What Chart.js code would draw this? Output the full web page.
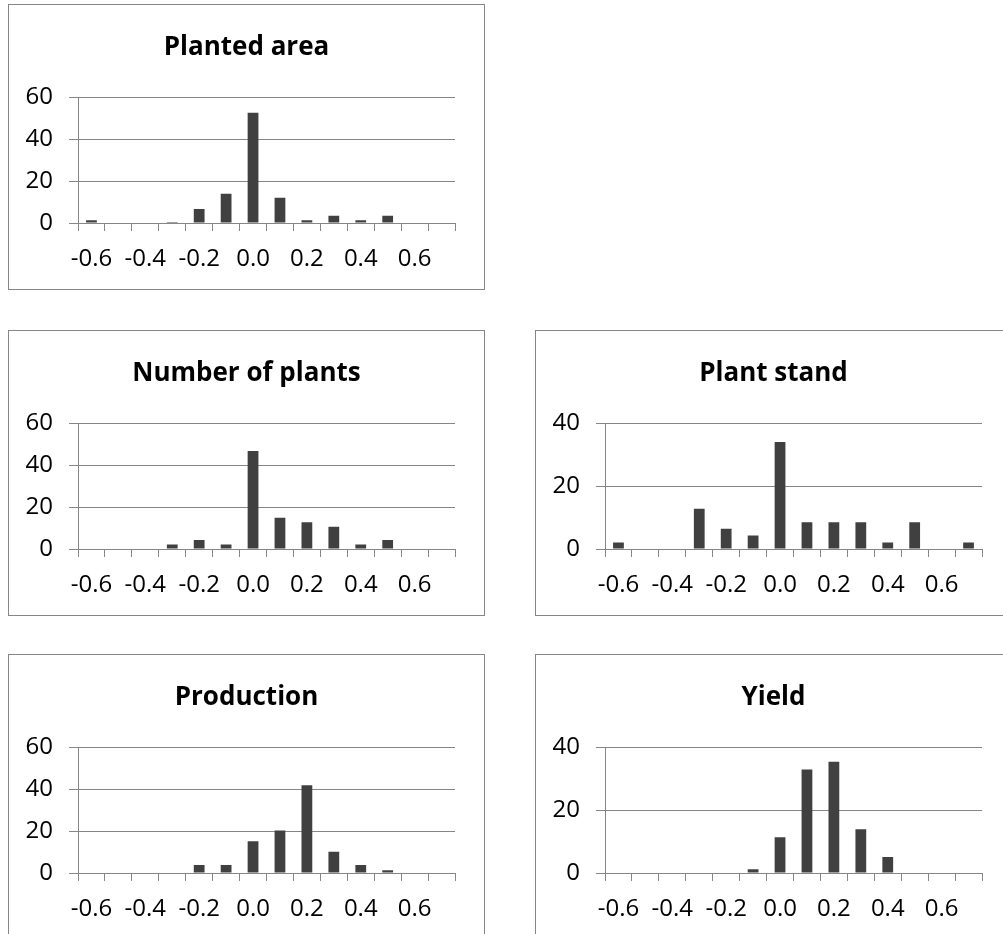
<!DOCTYPE html>
<html>
<head>
<meta charset="utf-8">
<script src="https://cdn.jsdelivr.net/npm/chart.js@4.4.0/dist/chart.umd.min.js"></script>
<style>
    html, body { margin: 0; padding: 0; background: #fff; overflow: hidden; width: 1003px; height: 934px; }
    .box { position: absolute; width: 477px; height: 286px; border: 1px solid #868686; box-sizing: border-box; }
    .box canvas { position: absolute; left: -1px; top: -1px; }
</style>
</head>
<body>
<div class="box" style="left:8px;top:4px"><canvas id="plantedArea" width="477" height="286"></canvas></div>
<div class="box" style="left:8px;top:330px"><canvas id="numberOfPlants" width="477" height="286"></canvas></div>
<div class="box" style="left:535px;top:330px"><canvas id="plantStand" width="477" height="286"></canvas></div>
<div class="box" style="left:8px;top:654px"><canvas id="production" width="477" height="286"></canvas></div>
<div class="box" style="left:535px;top:654px"><canvas id="yield" width="477" height="286"></canvas></div>
<script>
// bins of relative change, every other one gets a label
var binLabels = ["-0.6", "-0.5", "-0.4", "-0.3", "-0.2", "-0.1", "0.0", "0.1", "0.2", "0.3", "0.4", "0.5", "0.6", "0.7"];

var plantedArea    = [1.3, 0, 0, 0.5, 6.7, 13.9, 52.6, 12.1, 1.3, 3.5, 1.3, 3.5, 0, 0];
var numberOfPlants = [0, 0, 0, 2.1, 4.3, 2.1, 46.8, 14.9, 12.8, 10.6, 2.1, 4.3, 0, 0];
var plantStand     = [2.1, 0, 0, 12.8, 6.4, 4.3, 34.0, 8.5, 8.5, 8.5, 2.1, 8.5, 0, 2.1];
var production     = [0, 0, 0, 0, 3.8, 3.8, 15.2, 20.3, 41.8, 10.1, 3.8, 1.3, 0, 0];
var yieldValues    = [0, 0, 0, 0, 0, 1.2, 11.4, 32.9, 35.4, 13.9, 5.1, 0, 0, 0];

var yTicks60 = [0, 20, 40, 60];
var yTicks40 = [0, 20, 40];

(function () {

    var axisColor = "#868686";
    var barColor = "#404040";
    var fontFamily = "'Open Sans', Lato, sans-serif";

    function makeChart(id, title, values, yTicks) {
        var ctx = document.getElementById(id).getContext("2d");
        return new Chart(ctx, {
            type: "bar",
            data: {
                labels: binLabels,
                datasets: [{
                    data: values,
                    backgroundColor: barColor,
                    borderWidth: 0,
                    barPercentage: 0.4,
                    categoryPercentage: 1
                }]
            },
            options: {
                responsive: false,
                animation: false,
                devicePixelRatio: 1,
                layout: { padding: 0 },
                plugins: {
                    legend: { display: false },
                    tooltip: { enabled: false },
                    title: {
                        display: true,
                        text: title,
                        color: "#000",
                        font: { family: fontFamily, size: 26, weight: "bold", lineHeight: 1.2 },
                        padding: { top: 28, bottom: 34 }
                    }
                },
                scales: {
                    x: {
                        grid: { offset: true, drawOnChartArea: false, drawTicks: true, tickLength: 8, color: axisColor },
                        border: { color: axisColor },
                        ticks: {
                            autoSkip: false,
                            maxRotation: 0,
                            padding: 14,
                            color: "#000",
                            font: { family: fontFamily, size: 24 },
                            callback: function (v, i) { return i % 2 === 0 ? binLabels[i] : ""; }
                        },
                        afterFit: function (s) { s.height = 67; }
                    },
                    y: {
                        min: yTicks[0],
                        max: yTicks[yTicks.length - 1],
                        grid: { color: axisColor, tickLength: 9 },
                        border: { color: axisColor },
                        ticks: {
                            stepSize: yTicks[1] - yTicks[0],
                            padding: 16,
                            color: "#000",
                            font: { family: fontFamily, size: 24 }
                        },
                        afterFit: function (s) { s.width = 70; }
                    },
                    // empty right-hand strip so the plot stops short of the border
                    gap: {
                        type: "linear",
                        position: "right",
                        grid: { display: false },
                        border: { display: false },
                        ticks: { display: false },
                        afterFit: function (s) { s.width = 30; }
                    }
                }
            }
        });
    }

    makeChart("plantedArea", "Planted area", plantedArea, yTicks60);
    makeChart("numberOfPlants", "Number of plants", numberOfPlants, yTicks60);
    makeChart("plantStand", "Plant stand", plantStand, yTicks40);
    makeChart("production", "Production", production, yTicks60);
    makeChart("yield", "Yield", yieldValues, yTicks40);

})();
</script>
</body>
</html>
